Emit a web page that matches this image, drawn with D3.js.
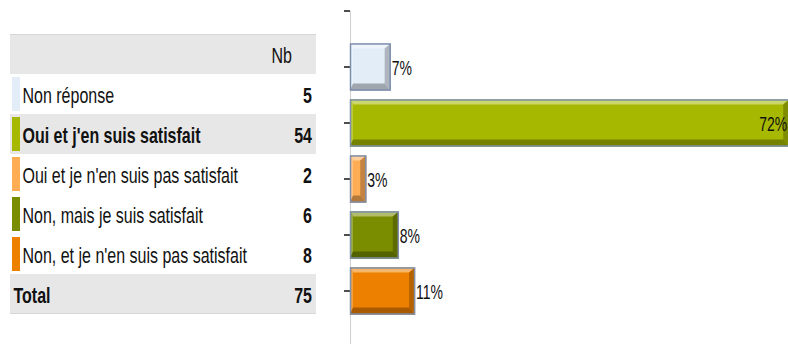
<!DOCTYPE html>
<html>
<head>
<meta charset="utf-8">
<script src="https://cdn.jsdelivr.net/npm/d3@7"></script>
<style>
  body { margin: 0; background: #fff; }
  svg { display: block; }
  text { font-family: "Liberation Sans", Arial, sans-serif; fill: #111; }
</style>
</head>
<body>
<script>
// Survey answers and their counts
const categories = [
  "Non réponse",
  "Oui et j'en suis satisfait",
  "Oui et je n'en suis pas satisfait",
  "Non, mais je suis satisfait",
  "Non, et je n'en suis pas satisfait"
];
const counts = [5, 54, 2, 6, 8];
const colors = ["#E3EDF8", "#A6B900", "#FFAD55", "#7A8C00", "#EE8000"];
const headerLabel = "Nb";
const totalLabel = "Total";

const W = 788, H = 344;
const STRETCH = 1.4;   // tall, condensed lettering

const svg = d3.select("body").append("svg")
  .attr("width", W).attr("height", H);

const total = d3.sum(counts);
const shares = counts.map(c => c / total);
const topIdx = counts.indexOf(d3.max(counts));
const pct = d3.format(".0%");

// ---------- frequency table ----------
const rows = ["__head", ...categories, "__total"];
const rowY = d3.scaleBand().domain(rows).range([34, 314]);
const tableX0 = 10, tableX1 = 316, labelX = 22.5, valueX = 312, headX = 292;

function stretchedText(g, x, yCenter, str, opts = {}) {
  return g.append("text")
    .attr("transform", `translate(${x},${yCenter + 8.5}) scale(1,${STRETCH})`)
    .attr("text-anchor", opts.anchor || "start")
    .attr("font-size", 16)
    .attr("font-weight", opts.bold ? "bold" : "normal")
    .text(str);
}

const table = svg.append("g");

// header band
table.append("rect")
  .attr("x", tableX0).attr("y", rowY("__head"))
  .attr("width", tableX1 - tableX0).attr("height", rowY.bandwidth())
  .attr("fill", "#E7E7E7");
table.append("line")
  .attr("x1", tableX0).attr("x2", tableX1)
  .attr("y1", rowY("__head") + 0.5).attr("y2", rowY("__head") + 0.5)
  .attr("stroke", "#D6D6D6");
stretchedText(table, headX, rowY("__head") + rowY.bandwidth() / 2, headerLabel, { anchor: "end" });

// highlighted (modal) answer row
table.append("rect")
  .attr("x", tableX0).attr("y", rowY(categories[topIdx]))
  .attr("width", tableX1 - tableX0).attr("height", rowY.bandwidth())
  .attr("fill", "#E7E7E7");

categories.forEach((cat, i) => {
  const y0 = rowY(cat), yc = y0 + rowY.bandwidth() / 2;
  table.append("rect")
    .attr("x", 12).attr("y", y0 + 3)
    .attr("width", 8).attr("height", rowY.bandwidth() - 6)
    .attr("fill", colors[i]);
  stretchedText(table, labelX, yc, cat, { bold: i === topIdx });
  stretchedText(table, valueX, yc, counts[i], { anchor: "end", bold: true });
});

// total band
table.append("rect")
  .attr("x", tableX0).attr("y", rowY("__total"))
  .attr("width", tableX1 - tableX0).attr("height", rowY.bandwidth())
  .attr("fill", "#E7E7E7");
table.append("line")
  .attr("x1", tableX0).attr("x2", tableX1)
  .attr("y1", rowY("__total") + rowY.bandwidth() - 0.5)
  .attr("y2", rowY("__total") + rowY.bandwidth() - 0.5)
  .attr("stroke", "#D6D6D6");
{
  const yc = rowY("__total") + rowY.bandwidth() / 2;
  stretchedText(table, 13.5, yc, totalLabel, { bold: true });
  stretchedText(table, valueX, yc, total, { anchor: "end", bold: true });
}

// ---------- bar chart ----------
const x = d3.scaleLinear().domain([0, 1]).range([350, 960]);
const y = d3.scaleBand().domain(categories).range([39, 319])
  .paddingInner(0.16).paddingOuter(0.08);

// axis
const axisTop = y.range()[0] - y.step() / 2;
svg.append("line")
  .attr("x1", x(0) + 0.5).attr("x2", x(0) + 0.5)
  .attr("y1", axisTop).attr("y2", H)
  .attr("stroke", "#CFCFCF");
const axis = svg.append("g")
  .attr("transform", `translate(${x(0)},0)`)
  .call(d3.axisLeft(y).tickSize(6).tickFormat(""));
axis.select(".domain").remove();
axis.selectAll(".tick line").attr("stroke", "#222").attr("stroke-width", 1.6);
axis.append("line")
  .attr("x1", -6).attr("x2", 0).attr("y1", axisTop).attr("y2", axisTop)
  .attr("stroke", "#222").attr("stroke-width", 1.6);

// bevelled bars
const bt = 5, bl = 3, br = 6, bb = 7;
const bars = svg.append("g").selectAll("g.bar")
  .data(categories.map((c, i) => ({ c, i, v: shares[i], col: colors[i] })))
  .join("g").attr("class", "bar");

bars.each(function (d) {
  const g = d3.select(this);
  const x0 = x(0), x1 = x(d.v), y0 = y(d.c), y1 = y0 + y.bandwidth();
  const light = d3.interpolateRgb(d.col, "#fff");
  const poly = pts => pts.map(p => p.join(",")).join(" ");
  g.append("rect").attr("x", x0).attr("y", y0)
    .attr("width", x1 - x0).attr("height", y1 - y0).attr("fill", d.col);
  // top
  g.append("polygon").attr("fill", light(0.42))
    .attr("points", poly([[x0, y0], [x1, y0], [x1 - br, y0 + bt], [x0 + bl, y0 + bt]]));
  // left
  g.append("polygon").attr("fill", light(0.25))
    .attr("points", poly([[x0, y0], [x0 + bl, y0 + bt], [x0 + bl, y1 - bb], [x0, y1]]));
  // right
  g.append("polygon").attr("fill", d3.color(d.col).darker(0.75))
    .attr("points", poly([[x1, y0], [x1, y1], [x1 - br, y1 - bb], [x1 - br, y0 + bt]]));
  // bottom
  g.append("polygon").attr("fill", d3.color(d.col).darker(1))
    .attr("points", poly([[x0, y1], [x0 + bl, y1 - bb], [x1 - br, y1 - bb], [x1, y1]]));
  g.append("rect").attr("x", x0 + 0.5).attr("y", y0 + 0.5)
    .attr("width", x1 - x0 - 1).attr("height", y1 - y0 - 1)
    .attr("fill", "none").attr("stroke", "#7D8FAD").attr("stroke-width", 1.5);

  // value label: outside the bar, or inside at its end when it would overflow
  const inside = x1 + 40 > W;
  g.append("text")
    .attr("transform", `translate(${inside ? x1 - 2 : x1 + 1},${(y0 + y1) / 2 + 7.5}) scale(1,1.45)`)
    .attr("text-anchor", inside ? "end" : "start")
    .attr("font-size", 14)
    .attr("fill", "#2a2a2a")
    .text(pct(d.v));
});
</script>
</body>
</html>
